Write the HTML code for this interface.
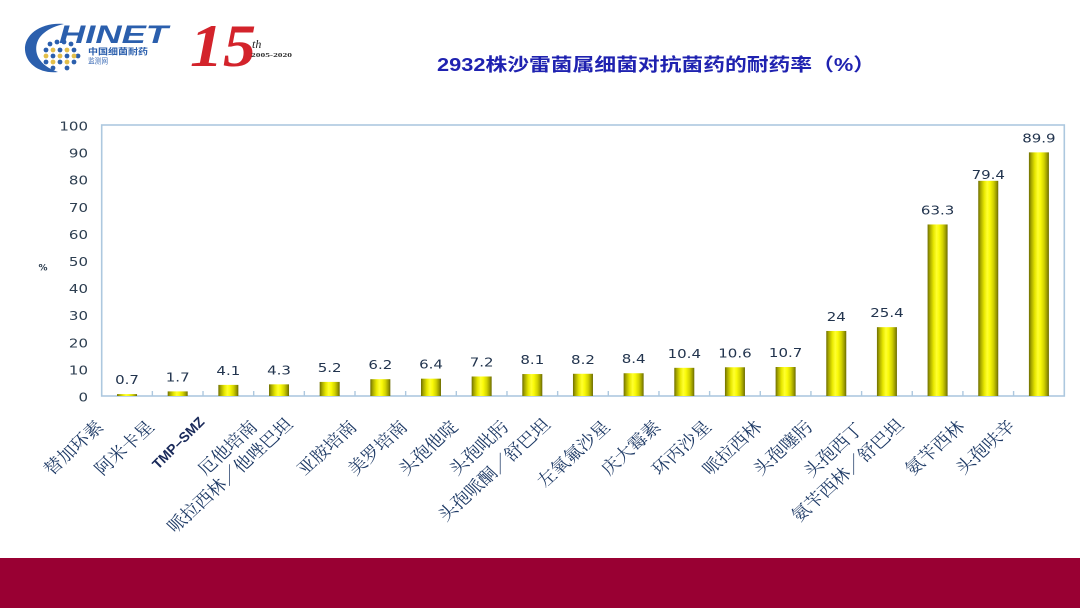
<!DOCTYPE html>
<html><head><meta charset="utf-8">
<style>
html,body{margin:0;padding:0;background:#fff;}
svg{display:block;}
</style></head>
<body>
<svg width="1080" height="608" viewBox="0 0 1080 608" xmlns="http://www.w3.org/2000/svg">
<defs>
<linearGradient id="bar" x1="0" y1="0" x2="1" y2="0">
<stop offset="0" stop-color="#6e6e00"/>
<stop offset="0.12" stop-color="#a8a800"/>
<stop offset="0.3" stop-color="#e8e800"/>
<stop offset="0.45" stop-color="#ffff30"/>
<stop offset="0.58" stop-color="#fafa08"/>
<stop offset="0.76" stop-color="#d2d200"/>
<stop offset="0.9" stop-color="#9c9c00"/>
<stop offset="1" stop-color="#6a6a00"/>
</linearGradient>
</defs>
<rect x="0" y="0" width="1080" height="608" fill="#ffffff"/>

<!-- Logo -->
<path d="M64 24 C42 22 24 34 25 50 C26 64 40 74 58 72 C52 70 44 66 40 60 C34 52 35 40 44 33 C50 28 56 26 64 24 Z" fill="#2b5fad"/>
<g fill="#2b5fad">
<circle cx="50" cy="44" r="2.4"/><circle cx="57" cy="42" r="2.4"/><circle cx="64" cy="42" r="2.4"/><circle cx="71" cy="44" r="2.4"/>
<circle cx="46" cy="50" r="2.4"/><circle cx="60" cy="50" r="2.4"/><circle cx="74" cy="50" r="2.4"/>
<circle cx="53" cy="56" r="2.4"/><circle cx="67" cy="56" r="2.4"/><circle cx="78" cy="56" r="2.4"/>
<circle cx="46" cy="62" r="2.4"/><circle cx="60" cy="62" r="2.4"/><circle cx="74" cy="62" r="2.4"/>
<circle cx="53" cy="68" r="2.4"/><circle cx="67" cy="68" r="2.4"/>
</g>
<g fill="#e3bf4a">
<circle cx="53" cy="50" r="2.4"/><circle cx="67" cy="50" r="2.4"/>
<circle cx="46" cy="56" r="2.4"/><circle cx="60" cy="56" r="2.4"/><circle cx="74" cy="56" r="2.4"/>
<circle cx="53" cy="62" r="2.4"/><circle cx="67" cy="62" r="2.4"/>
</g>
<text x="59" y="43" font-family="Liberation Sans, sans-serif" font-weight="bold" font-style="italic" font-size="25" fill="#2b5fad" textLength="109" lengthAdjust="spacingAndGlyphs">HINET</text>
<text x="88" y="54.5" font-family="Liberation Sans, 'Noto Sans CJK SC', sans-serif" font-weight="bold" font-size="8.5" fill="#2b5fad" textLength="60" lengthAdjust="spacingAndGlyphs">中国细菌耐药</text>
<text x="88" y="63.5" font-family="Liberation Sans, 'Noto Sans CJK SC', sans-serif" font-size="7.5" fill="#3a6ab5" textLength="20" lengthAdjust="spacingAndGlyphs">监测网</text>
<text x="190" y="66" font-family="Liberation Serif, serif" font-weight="bold" font-style="italic" font-size="60" fill="#d3232b" textLength="66" lengthAdjust="spacingAndGlyphs">15</text>
<text x="252" y="48" font-family="Liberation Serif, serif" font-style="italic" font-size="12" fill="#222">th</text>
<text x="251" y="57" font-family="Liberation Serif, serif" font-weight="bold" font-size="6.5" fill="#333" textLength="41" lengthAdjust="spacingAndGlyphs">2005-2020</text>

<!-- Title -->
<text x="437" y="71" font-family="Liberation Sans, 'Noto Sans CJK SC', sans-serif" font-weight="bold" font-size="18" fill="#1f22b0" textLength="438" lengthAdjust="spacingAndGlyphs">2932株沙雷菌属细菌对抗菌药的耐药率（%）</text>

<!-- Plot frame -->
<rect x="101.7" y="125" width="962.6" height="271" fill="none" stroke="#adc8df" stroke-width="1.6"/>
<g stroke="#adc8df" stroke-width="1.4">
<line x1="152.36" y1="391" x2="152.36" y2="396"/>
<line x1="203.02" y1="391" x2="203.02" y2="396"/>
<line x1="253.68" y1="391" x2="253.68" y2="396"/>
<line x1="304.34" y1="391" x2="304.34" y2="396"/>
<line x1="355" y1="391" x2="355" y2="396"/>
<line x1="405.66" y1="391" x2="405.66" y2="396"/>
<line x1="456.32" y1="391" x2="456.32" y2="396"/>
<line x1="506.98" y1="391" x2="506.98" y2="396"/>
<line x1="557.64" y1="391" x2="557.64" y2="396"/>
<line x1="608.3" y1="391" x2="608.3" y2="396"/>
<line x1="658.96" y1="391" x2="658.96" y2="396"/>
<line x1="709.62" y1="391" x2="709.62" y2="396"/>
<line x1="760.28" y1="391" x2="760.28" y2="396"/>
<line x1="810.94" y1="391" x2="810.94" y2="396"/>
<line x1="861.6" y1="391" x2="861.6" y2="396"/>
<line x1="912.26" y1="391" x2="912.26" y2="396"/>
<line x1="962.92" y1="391" x2="962.92" y2="396"/>
<line x1="1013.58" y1="391" x2="1013.58" y2="396"/>
</g>

<!-- Y labels -->
<g font-family="DejaVu Sans, sans-serif" font-size="12.5" fill="#2d3e50" text-anchor="end">
<text transform="translate(88,130.5) scale(1.2,1)">100</text>
<text transform="translate(88,157.6) scale(1.2,1)">90</text>
<text transform="translate(88,184.7) scale(1.2,1)">80</text>
<text transform="translate(88,211.8) scale(1.2,1)">70</text>
<text transform="translate(88,238.9) scale(1.2,1)">60</text>
<text transform="translate(88,266) scale(1.2,1)">50</text>
<text transform="translate(88,293.1) scale(1.2,1)">40</text>
<text transform="translate(88,320.2) scale(1.2,1)">30</text>
<text transform="translate(88,347.3) scale(1.2,1)">20</text>
<text transform="translate(88,374.4) scale(1.2,1)">10</text>
<text transform="translate(88,401.5) scale(1.2,1)">0</text>
</g>
<text x="43" y="270.5" font-family="DejaVu Sans, sans-serif" font-weight="bold" font-size="9" fill="#2d3e50" text-anchor="middle">%</text>

<!-- Bars -->
<g fill="url(#bar)">
<rect x="117.03" y="394.1" width="20" height="1.9"/>
<rect x="167.69" y="391.39" width="20" height="4.61"/>
<rect x="218.35" y="384.89" width="20" height="11.11"/>
<rect x="269.01" y="384.35" width="20" height="11.65"/>
<rect x="319.67" y="381.91" width="20" height="14.09"/>
<rect x="370.33" y="379.2" width="20" height="16.8"/>
<rect x="420.99" y="378.66" width="20" height="17.34"/>
<rect x="471.65" y="376.49" width="20" height="19.51"/>
<rect x="522.31" y="374.05" width="20" height="21.95"/>
<rect x="572.97" y="373.78" width="20" height="22.22"/>
<rect x="623.63" y="373.24" width="20" height="22.76"/>
<rect x="674.29" y="367.82" width="20" height="28.18"/>
<rect x="724.95" y="367.27" width="20" height="28.73"/>
<rect x="775.61" y="367" width="20" height="29"/>
<rect x="826.27" y="330.96" width="20" height="65.04"/>
<rect x="876.93" y="327.17" width="20" height="68.83"/>
<rect x="927.59" y="224.46" width="20" height="171.54"/>
<rect x="978.25" y="180.83" width="20" height="215.17"/>
<rect x="1028.91" y="152.37" width="20" height="243.63"/>
</g>

<!-- Data labels -->
<g font-family="DejaVu Sans, sans-serif" font-size="12.5" fill="#22344e" text-anchor="middle">
<text transform="translate(127.03,384.1) scale(1.2,1)">0.7</text>
<text transform="translate(177.69,381.39) scale(1.2,1)">1.7</text>
<text transform="translate(228.35,374.89) scale(1.2,1)">4.1</text>
<text transform="translate(279.01,374.35) scale(1.2,1)">4.3</text>
<text transform="translate(329.67,371.91) scale(1.2,1)">5.2</text>
<text transform="translate(380.33,369.2) scale(1.2,1)">6.2</text>
<text transform="translate(430.99,368.66) scale(1.2,1)">6.4</text>
<text transform="translate(481.65,366.49) scale(1.2,1)">7.2</text>
<text transform="translate(532.31,364.05) scale(1.2,1)">8.1</text>
<text transform="translate(582.97,363.78) scale(1.2,1)">8.2</text>
<text transform="translate(633.63,363.24) scale(1.2,1)">8.4</text>
<text transform="translate(684.29,357.82) scale(1.2,1)">10.4</text>
<text transform="translate(734.95,357.27) scale(1.2,1)">10.6</text>
<text transform="translate(785.61,357) scale(1.2,1)">10.7</text>
<text transform="translate(836.27,320.96) scale(1.2,1)">24</text>
<text transform="translate(886.93,317.17) scale(1.2,1)">25.4</text>
<text transform="translate(937.59,214.46) scale(1.2,1)">63.3</text>
<text transform="translate(988.25,179) scale(1.2,1)">79.4</text>
<text transform="translate(1038.91,142.37) scale(1.2,1)">89.9</text>
</g>

<!-- X labels -->
<g font-family="'Liberation Serif', 'Noto Serif CJK SC', serif" font-size="17" fill="#1e3a66" text-anchor="end">
<text transform="translate(104.5,428) scale(1.1,1) rotate(-45)">替加环素</text>
<text transform="translate(155.2,428) scale(1.1,1) rotate(-45)">阿米卡星</text>
<text transform="translate(258.5,428) scale(1.1,1) rotate(-45)">厄他培南</text>
<text transform="translate(294,425.5) scale(1.1,1) rotate(-45)">哌拉西林／他唑巴坦</text>
<text transform="translate(357.8,428) scale(1.1,1) rotate(-45)">亚胺培南</text>
<text transform="translate(408.5,428) scale(1.1,1) rotate(-45)">美罗培南</text>
<text transform="translate(459.1,428) scale(1.1,1) rotate(-45)">头孢他啶</text>
<text transform="translate(509.8,428) scale(1.1,1) rotate(-45)">头孢吡肟</text>
<text transform="translate(551.5,426) scale(1.1,1) rotate(-45)">头孢哌酮／舒巴坦</text>
<text transform="translate(611.1,428) scale(1.1,1) rotate(-45)">左氧氟沙星</text>
<text transform="translate(661.8,428) scale(1.1,1) rotate(-45)">庆大霉素</text>
<text transform="translate(712.4,428) scale(1.1,1) rotate(-45)">环丙沙星</text>
<text transform="translate(763.1,428) scale(1.1,1) rotate(-45)">哌拉西林</text>
<text transform="translate(813.8,428) scale(1.1,1) rotate(-45)">头孢噻肟</text>
<text transform="translate(864.4,430) scale(1.1,1) rotate(-45)">头孢西丁</text>
<text transform="translate(905,426.5) scale(1.1,1) rotate(-45)">氨苄西林／舒巴坦</text>
<text transform="translate(965.8,428) scale(1.1,1) rotate(-45)">氨苄西林</text>
<text transform="translate(1016.4,427) scale(1.1,1) rotate(-45)">头孢呋辛</text>
</g>
<text transform="translate(205.3,422.7) rotate(-45)" font-family="Liberation Sans, sans-serif" font-weight="bold" font-size="14" fill="#1a2a5a" text-anchor="end">TMP–SMZ</text>

<!-- Bottom band -->
<rect x="0" y="558" width="1080" height="50" fill="#990033"/>
</svg>
</body></html>
